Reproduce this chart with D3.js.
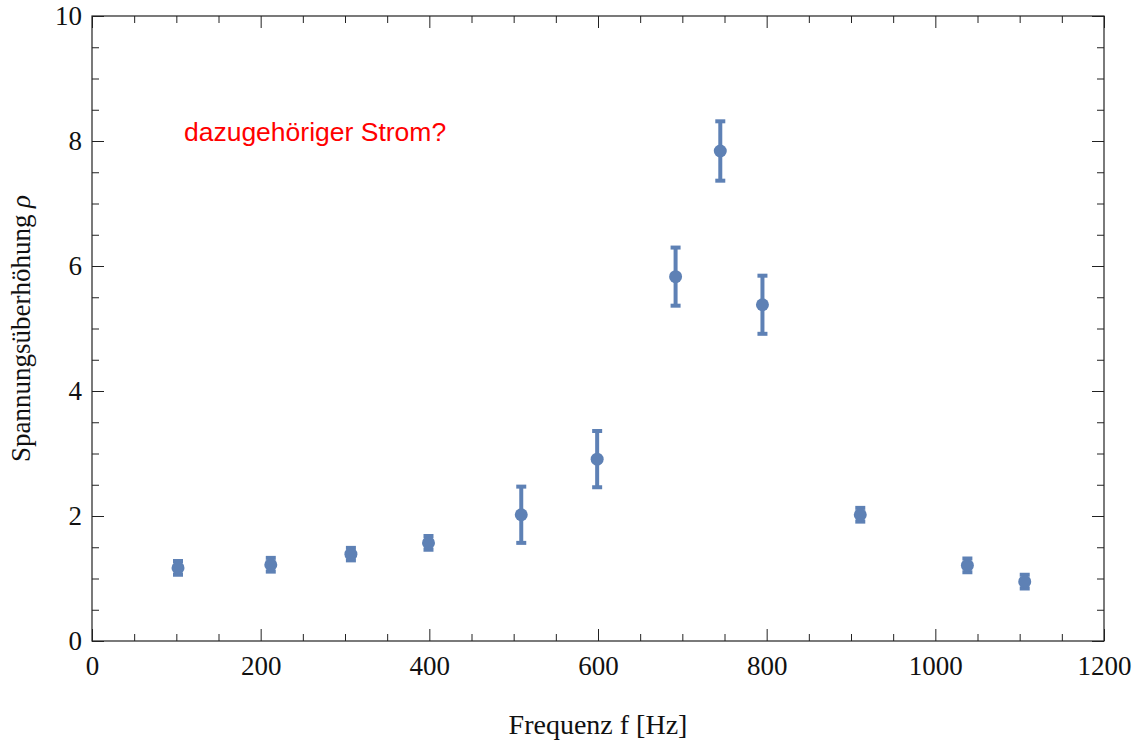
<!DOCTYPE html>
<html>
<head>
<meta charset="utf-8">
<script src="https://cdn.jsdelivr.net/npm/d3@7"></script>
<style>
  body { margin: 0; background: white; }
  svg { display: block; }
</style>
</head>
<body>
<svg width="1134" height="742"></svg>
<script>
// measured data: frequency, voltage overshoot, error
const freq = [102, 212, 307, 399, 509, 599, 692, 745, 795, 911, 1038, 1106];
const rho = [1.17, 1.22, 1.39, 1.57, 2.02, 2.91, 5.83, 7.84, 5.38, 2.02, 1.21, 0.95];
const rhoErr = [0.11, 0.11, 0.10, 0.11, 0.45, 0.45, 0.465, 0.475, 0.465, 0.11, 0.11, 0.11];

const xTicks = [0, 200, 400, 600, 800, 1000, 1200];
const yTicks = [0, 2, 4, 6, 8, 10];

const width = 1134;
const height = 742;
const margin = { top: 16, right: 30, bottom: 101, left: 92 };
const innerW = width - margin.left - margin.right;
const innerH = height - margin.top - margin.bottom;

const serif = '"Liberation Serif", "Times New Roman", serif';
const pointColor = '#5e81b5';

const svg = d3.select('svg');
const g = svg.append('g').attr('transform', `translate(${margin.left},${margin.top})`);

const x = d3.scaleLinear().domain([0, 1200]).range([0, innerW]);
const y = d3.scaleLinear().domain([0, 10]).range([innerH, 0]);

const xMinor = d3.range(0, 1201, 50).filter(d => d % 200 !== 0);
const yMinor = d3.range(0, 10.01, 0.5).filter(d => d % 2 !== 0);

// helper to style axis groups
function styleAxis(sel) {
  sel.select('.domain').remove();
  sel.selectAll('.tick line').attr('stroke', '#222').attr('stroke-width', 1);
  sel.selectAll('.tick text').attr('fill', '#111').style('font-family', serif).style('font-size', '27px');
}

// bottom axis with labels
g.append('g').attr('transform', `translate(0,${innerH})`)
  .call(d3.axisBottom(x).tickValues(xTicks).tickSize(-12).tickPadding(15).tickFormat(d3.format('d')))
  .call(styleAxis);
g.append('g').attr('transform', `translate(0,${innerH})`)
  .call(d3.axisBottom(x).tickValues(xMinor).tickSize(-7).tickFormat(''))
  .call(styleAxis);

// top axis, ticks only
g.append('g')
  .call(d3.axisTop(x).tickValues(xTicks).tickSize(-12).tickFormat(''))
  .call(styleAxis);
g.append('g')
  .call(d3.axisTop(x).tickValues(xMinor).tickSize(-7).tickFormat(''))
  .call(styleAxis);

// left axis with labels
g.append('g')
  .call(d3.axisLeft(y).tickValues(yTicks).tickSize(-12).tickPadding(10).tickFormat(d3.format('d')))
  .call(styleAxis);
g.append('g')
  .call(d3.axisLeft(y).tickValues(yMinor).tickSize(-7).tickFormat(''))
  .call(styleAxis);

// right axis, ticks only
g.append('g').attr('transform', `translate(${innerW},0)`)
  .call(d3.axisRight(y).tickValues(yTicks).tickSize(-12).tickFormat(''))
  .call(styleAxis);
g.append('g').attr('transform', `translate(${innerW},0)`)
  .call(d3.axisRight(y).tickValues(yMinor).tickSize(-7).tickFormat(''))
  .call(styleAxis);

// frame
g.append('rect')
  .attr('width', innerW).attr('height', innerH)
  .attr('fill', 'none').attr('stroke', '#222').attr('stroke-width', 1.2);

// data points with error bars
const data = freq.map((f, i) => ({ f, r: rho[i], e: rhoErr[i] }));

const pts = g.append('g').selectAll('g').data(data).join('g');

pts.append('line')
  .attr('x1', d => x(d.f)).attr('x2', d => x(d.f))
  .attr('y1', d => y(d.r + d.e)).attr('y2', d => y(d.r - d.e))
  .attr('stroke', pointColor).attr('stroke-width', 4);

[1, -1].forEach(s => {
  pts.append('line')
    .attr('x1', d => x(d.f) - 5).attr('x2', d => x(d.f) + 5)
    .attr('y1', d => y(d.r + s * d.e)).attr('y2', d => y(d.r + s * d.e))
    .attr('stroke', pointColor).attr('stroke-width', 4);
});

pts.append('circle')
  .attr('cx', d => x(d.f)).attr('cy', d => y(d.r))
  .attr('r', 6.5)
  .attr('fill', pointColor);

// annotation
g.append('text')
  .attr('x', x(109)).attr('y', y(8.0))
  .attr('fill', 'red')
  .style('font-family', '"Liberation Sans", Arial, sans-serif')
  .style('font-size', '26.5px')
  .text('dazugehöriger Strom?');

// axis labels
g.append('text')
  .attr('x', innerW / 2).attr('y', innerH + 93)
  .attr('text-anchor', 'middle')
  .attr('fill', '#111')
  .style('font-family', serif).style('font-size', '28px')
  .text('Frequenz f [Hz]');

const yLabel = g.append('text')
  .attr('transform', `translate(${30 - margin.left},${innerH / 2}) rotate(-90)`)
  .attr('text-anchor', 'middle')
  .attr('fill', '#111')
  .style('font-family', serif).style('font-size', '27px');
yLabel.append('tspan').text('Spannungsüberhöhung ');
yLabel.append('tspan').style('font-style', 'italic').text('ρ');
</script>
</body>
</html>
